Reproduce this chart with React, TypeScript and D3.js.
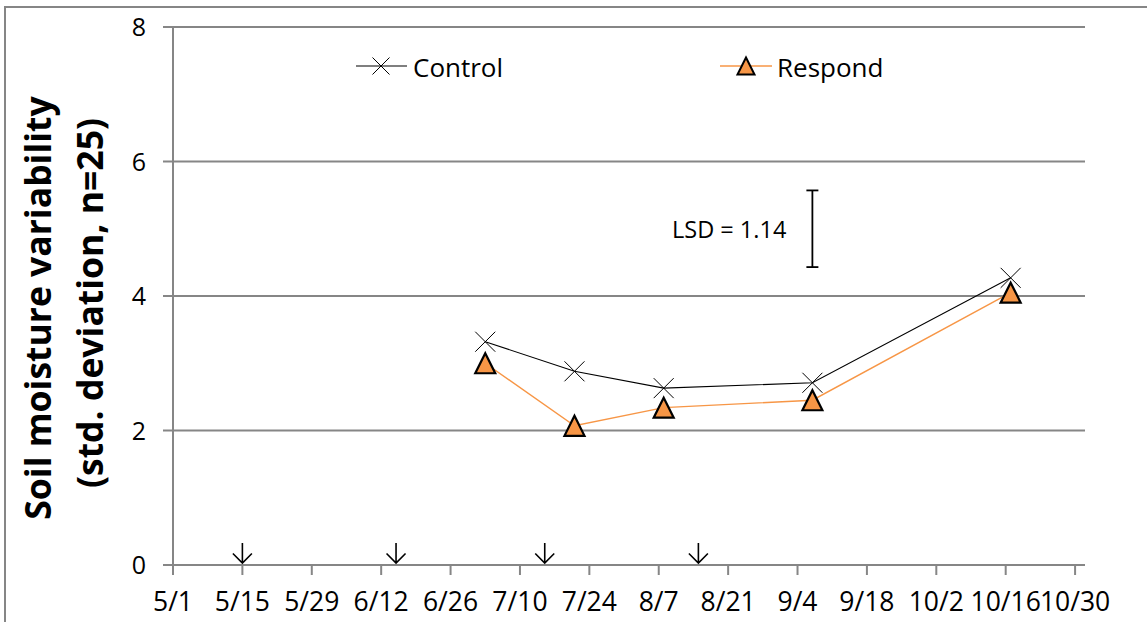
import React from "react";
import * as d3 from "d3";

// Sampling dates (month/day) and soil moisture standard deviations
const sampleDates = ["7/3", "7/21", "8/8", "9/7", "10/17"];
const controlValues = [3.32, 2.88, 2.63, 2.71, 4.27];
const respondValues = [3.0, 2.07, 2.34, 2.45, 4.05];

// Irrigation / event dates marked with arrows on the x axis
const arrowDates = ["5/15", "6/15", "7/15", "8/15"];

// Axis ticks
const xTickLabels = ["5/1", "5/15", "5/29", "6/12", "6/26", "7/10", "7/24", "8/7", "8/21", "9/4", "9/18", "10/2", "10/16", "10/30"];
const yTickValues = [0, 2, 4, 6, 8];

// Least significant difference bar
const lsdValue = 1.14;
const lsdCenter = 5.0;
const lsdDate = "9/7";

const YEAR = 2013;
const parseMD = (s: string) => {
  const [m, d] = s.split("/").map(Number);
  return new Date(Date.UTC(YEAR, m - 1, d));
};

const W = 1147;
const H = 622;
const FONT = "'Open Sans', 'Noto Sans', sans-serif";
const GRID = "#868686";
const ORANGE = "#F79646";

export default function App() {
  const x = d3
    .scaleUtc()
    .domain([parseMD("5/1"), parseMD("11/1")])
    .range([173, 1085]);
  const y = d3.scaleLinear().domain([0, 8]).range([565, 27]);

  const control = sampleDates.map((d, i) => ({ date: parseMD(d), v: controlValues[i] }));
  const respond = sampleDates.map((d, i) => ({ date: parseMD(d), v: respondValues[i] }));

  const line = d3
    .line<{ date: Date; v: number }>()
    .x((d) => x(d.date))
    .y((d) => y(d.v));

  const xMarker = (cx: number, cy: number, r: number) =>
    `M${cx - r},${cy - r}L${cx + r},${cy + r}M${cx - r},${cy + r}L${cx + r},${cy - r}`;
  const triMarker = (cx: number, cy: number, r: number) =>
    `M${cx},${cy - r}L${cx + r},${cy + r}L${cx - r},${cy + r}Z`;

  const lsdX = x(parseMD(lsdDate));
  const lsdTop = y(lsdCenter + lsdValue / 2);
  const lsdBot = y(lsdCenter - lsdValue / 2);

  return (
    <svg
      width={W}
      height={H}
      style={{ position: "absolute", left: 0, top: 0, background: "#fff" }}
      fontFamily={FONT}
    >
      {/* chart frame */}
      <rect x={5} y={7} width={W + 20} height={H + 20} fill="#fff" stroke={GRID} strokeWidth={2} />

      {/* horizontal gridlines */}
      {yTickValues.map((v) => (
        <g key={v}>
          <line x1={163} x2={1085} y1={y(v)} y2={y(v)} stroke={GRID} strokeWidth={2} />
          <text x={146} y={y(v) + 9} fontSize={25} textAnchor="end" fill="#000">
            {v}
          </text>
        </g>
      ))}

      {/* y axis line */}
      <line x1={173} x2={173} y1={y(8)} y2={y(0)} stroke={GRID} strokeWidth={2} />

      {/* x ticks and labels */}
      {xTickLabels.map((t) => {
        const xx = x(parseMD(t));
        return (
          <g key={t}>
            <line x1={xx} x2={xx} y1={y(0)} y2={y(0) + 10} stroke={GRID} strokeWidth={2} />
            <text x={xx} y={611} fontSize={26.5} textAnchor="middle" fill="#000">
              {t}
            </text>
          </g>
        );
      })}

      {/* event arrows */}
      {arrowDates.map((d) => {
        const ax = x(parseMD(d));
        return (
          <path
            key={d}
            d={`M${ax},543L${ax},563M${ax - 9.5},553.5L${ax},563L${ax + 9.5},553.5`}
            fill="none"
            stroke="#000"
            strokeWidth={1.6}
          />
        );
      })}

      {/* series lines */}
      <path d={line(control) ?? ""} fill="none" stroke="#000" strokeWidth={1.1} />
      <path d={line(respond) ?? ""} fill="none" stroke={ORANGE} strokeWidth={1.4} />

      {/* markers */}
      {control.map((d, i) => (
        <path key={"c" + i} d={xMarker(x(d.date), y(d.v), 10)} stroke="#000" strokeWidth={1} fill="none" />
      ))}
      {respond.map((d, i) => (
        <path
          key={"r" + i}
          d={triMarker(x(d.date), y(d.v), 10)}
          fill={ORANGE}
          stroke="#000"
          strokeWidth={2.2}
          strokeLinejoin="miter"
        />
      ))}

      {/* LSD bar */}
      <g stroke="#000" strokeWidth={1.8}>
        <line x1={lsdX} x2={lsdX} y1={lsdTop} y2={lsdBot} />
        <line x1={lsdX - 6} x2={lsdX + 6} y1={lsdTop} y2={lsdTop} />
        <line x1={lsdX - 6} x2={lsdX + 6} y1={lsdBot} y2={lsdBot} />
      </g>
      <text x={672} y={238} fontSize={23.5} fill="#000">
        LSD = {lsdValue.toFixed(2)}
      </text>

      {/* legend */}
      <line x1={356} x2={407} y1={66} y2={66} stroke="#000" strokeWidth={1.1} />
      <path d={xMarker(381, 66, 8.5)} stroke="#000" strokeWidth={1} fill="none" />
      <text x={413} y={77} fontSize={26} fill="#000">
        Control
      </text>
      <line x1={720} x2={772} y1={66} y2={66} stroke={ORANGE} strokeWidth={1.4} />
      <path d={triMarker(746, 66, 8.5)} fill={ORANGE} stroke="#000" strokeWidth={2} />
      <text x={777} y={77} fontSize={26} fill="#000">
        Respond
      </text>

      {/* y axis title */}
      <g transform="translate(51,306) rotate(-90)">
        <text x={-2} y={0} fontSize={35.5} fontWeight="bold" textAnchor="middle" fill="#000">
          Soil moisture variability
        </text>
        <text x={3} y={52} fontSize={35.5} fontWeight="bold" textAnchor="middle" fill="#000">
          (std. deviation, n=25)
        </text>
      </g>
    </svg>
  );
}
